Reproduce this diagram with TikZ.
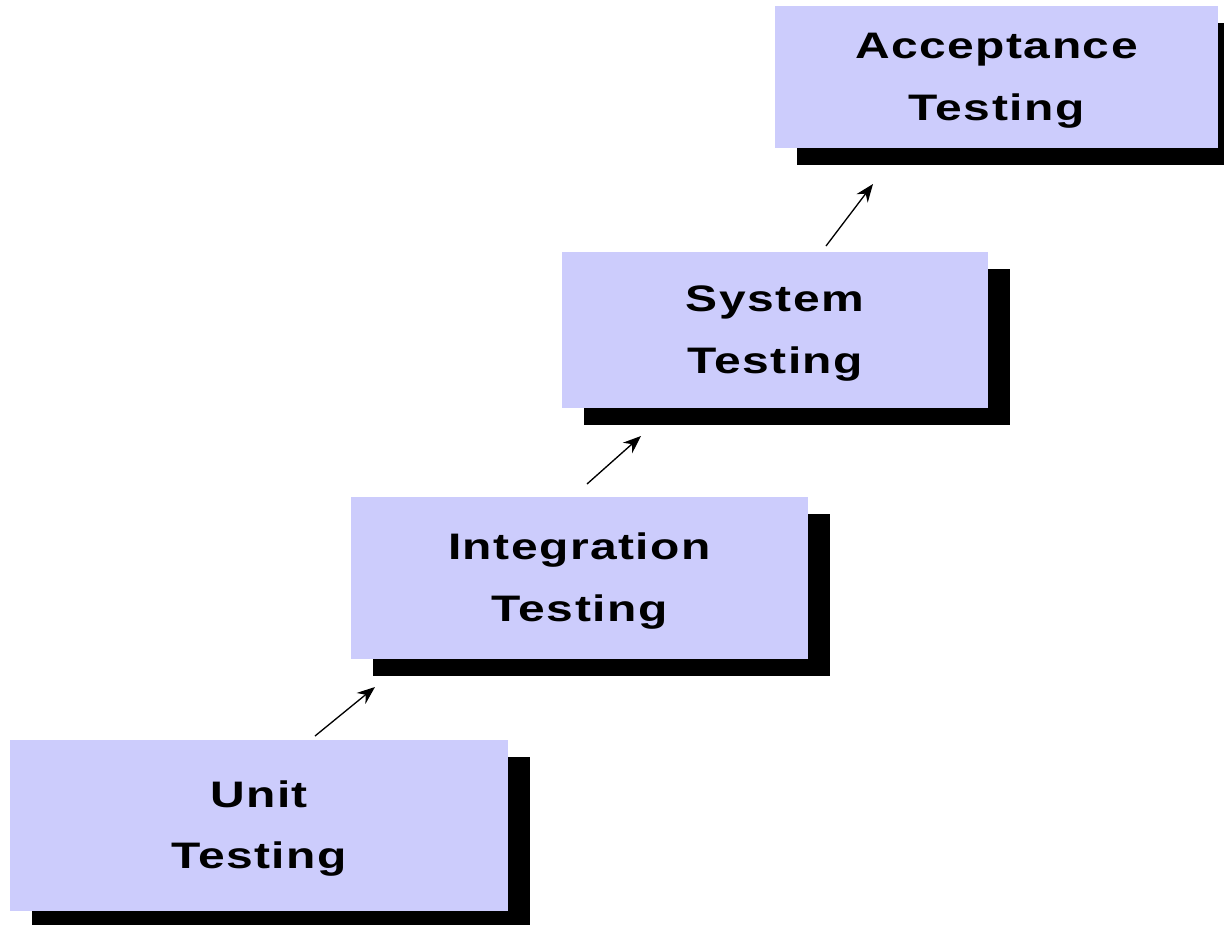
\documentclass[tikz,border=0pt]{standalone}
\usepackage{fontspec}
\usepackage{tikz}
\usetikzlibrary{shadows,arrows.meta}
\newfontfamily\stagefont{Liberation Sans}[FakeStretch=1.3,LetterSpace=4]
\definecolor{stagefill}{RGB}{204,204,252}
\newcommand{\stagelabel}[2]{\raisebox{-0.11cm}{\begin{tabular}{@{}c@{}}#1\\#2\end{tabular}}}

\begin{document}
\begin{tikzpicture}[
		x=0.02cm, y=-0.02cm,
		stage/.style={rectangle, fill=stagefill, inner sep=0pt,
			font=\stagefont\bfseries\fontsize{21}{35}\selectfont,
			drop shadow={shadow xshift=0.44cm, shadow yshift=-0.34cm, fill=black, opacity=1}},
		every edge/.style={draw, line width=0.75pt, -{Stealth[length=0.36cm, width=0.28cm]}}
	]
  \useasboundingbox (0,0) rectangle (1224,924);
  \node (unit_t) [stage, minimum width=9.96cm, minimum height=3.42cm] at (259,825.5) {\stagelabel{Unit}{Testing}};
  \node (integ_t) [stage, minimum width=9.14cm, minimum height=3.24cm] at (579.5,578) {\stagelabel{Integration}{Testing}};
  \node (sys_t) [stage, minimum width=8.52cm, minimum height=3.12cm] at (775,330) {\stagelabel{System}{Testing}};
  \node (accept_t) [stage, minimum width=8.86cm, minimum height=2.84cm] at (996.5,77) {\stagelabel{Acceptance}{Testing}};
  \coordinate (a_0) at (315,736);
  \coordinate (a_1) at (375,687);
  \coordinate (b_0) at (587,484);
  \coordinate (b_1) at (641,436);
  \coordinate (c_0) at (826,246);
  \coordinate (c_1) at (873,184);
  \draw (a_0) edge (a_1);
  \draw (b_0) edge (b_1);
  \draw (c_0) edge (c_1);
\end{tikzpicture}
\end{document}
